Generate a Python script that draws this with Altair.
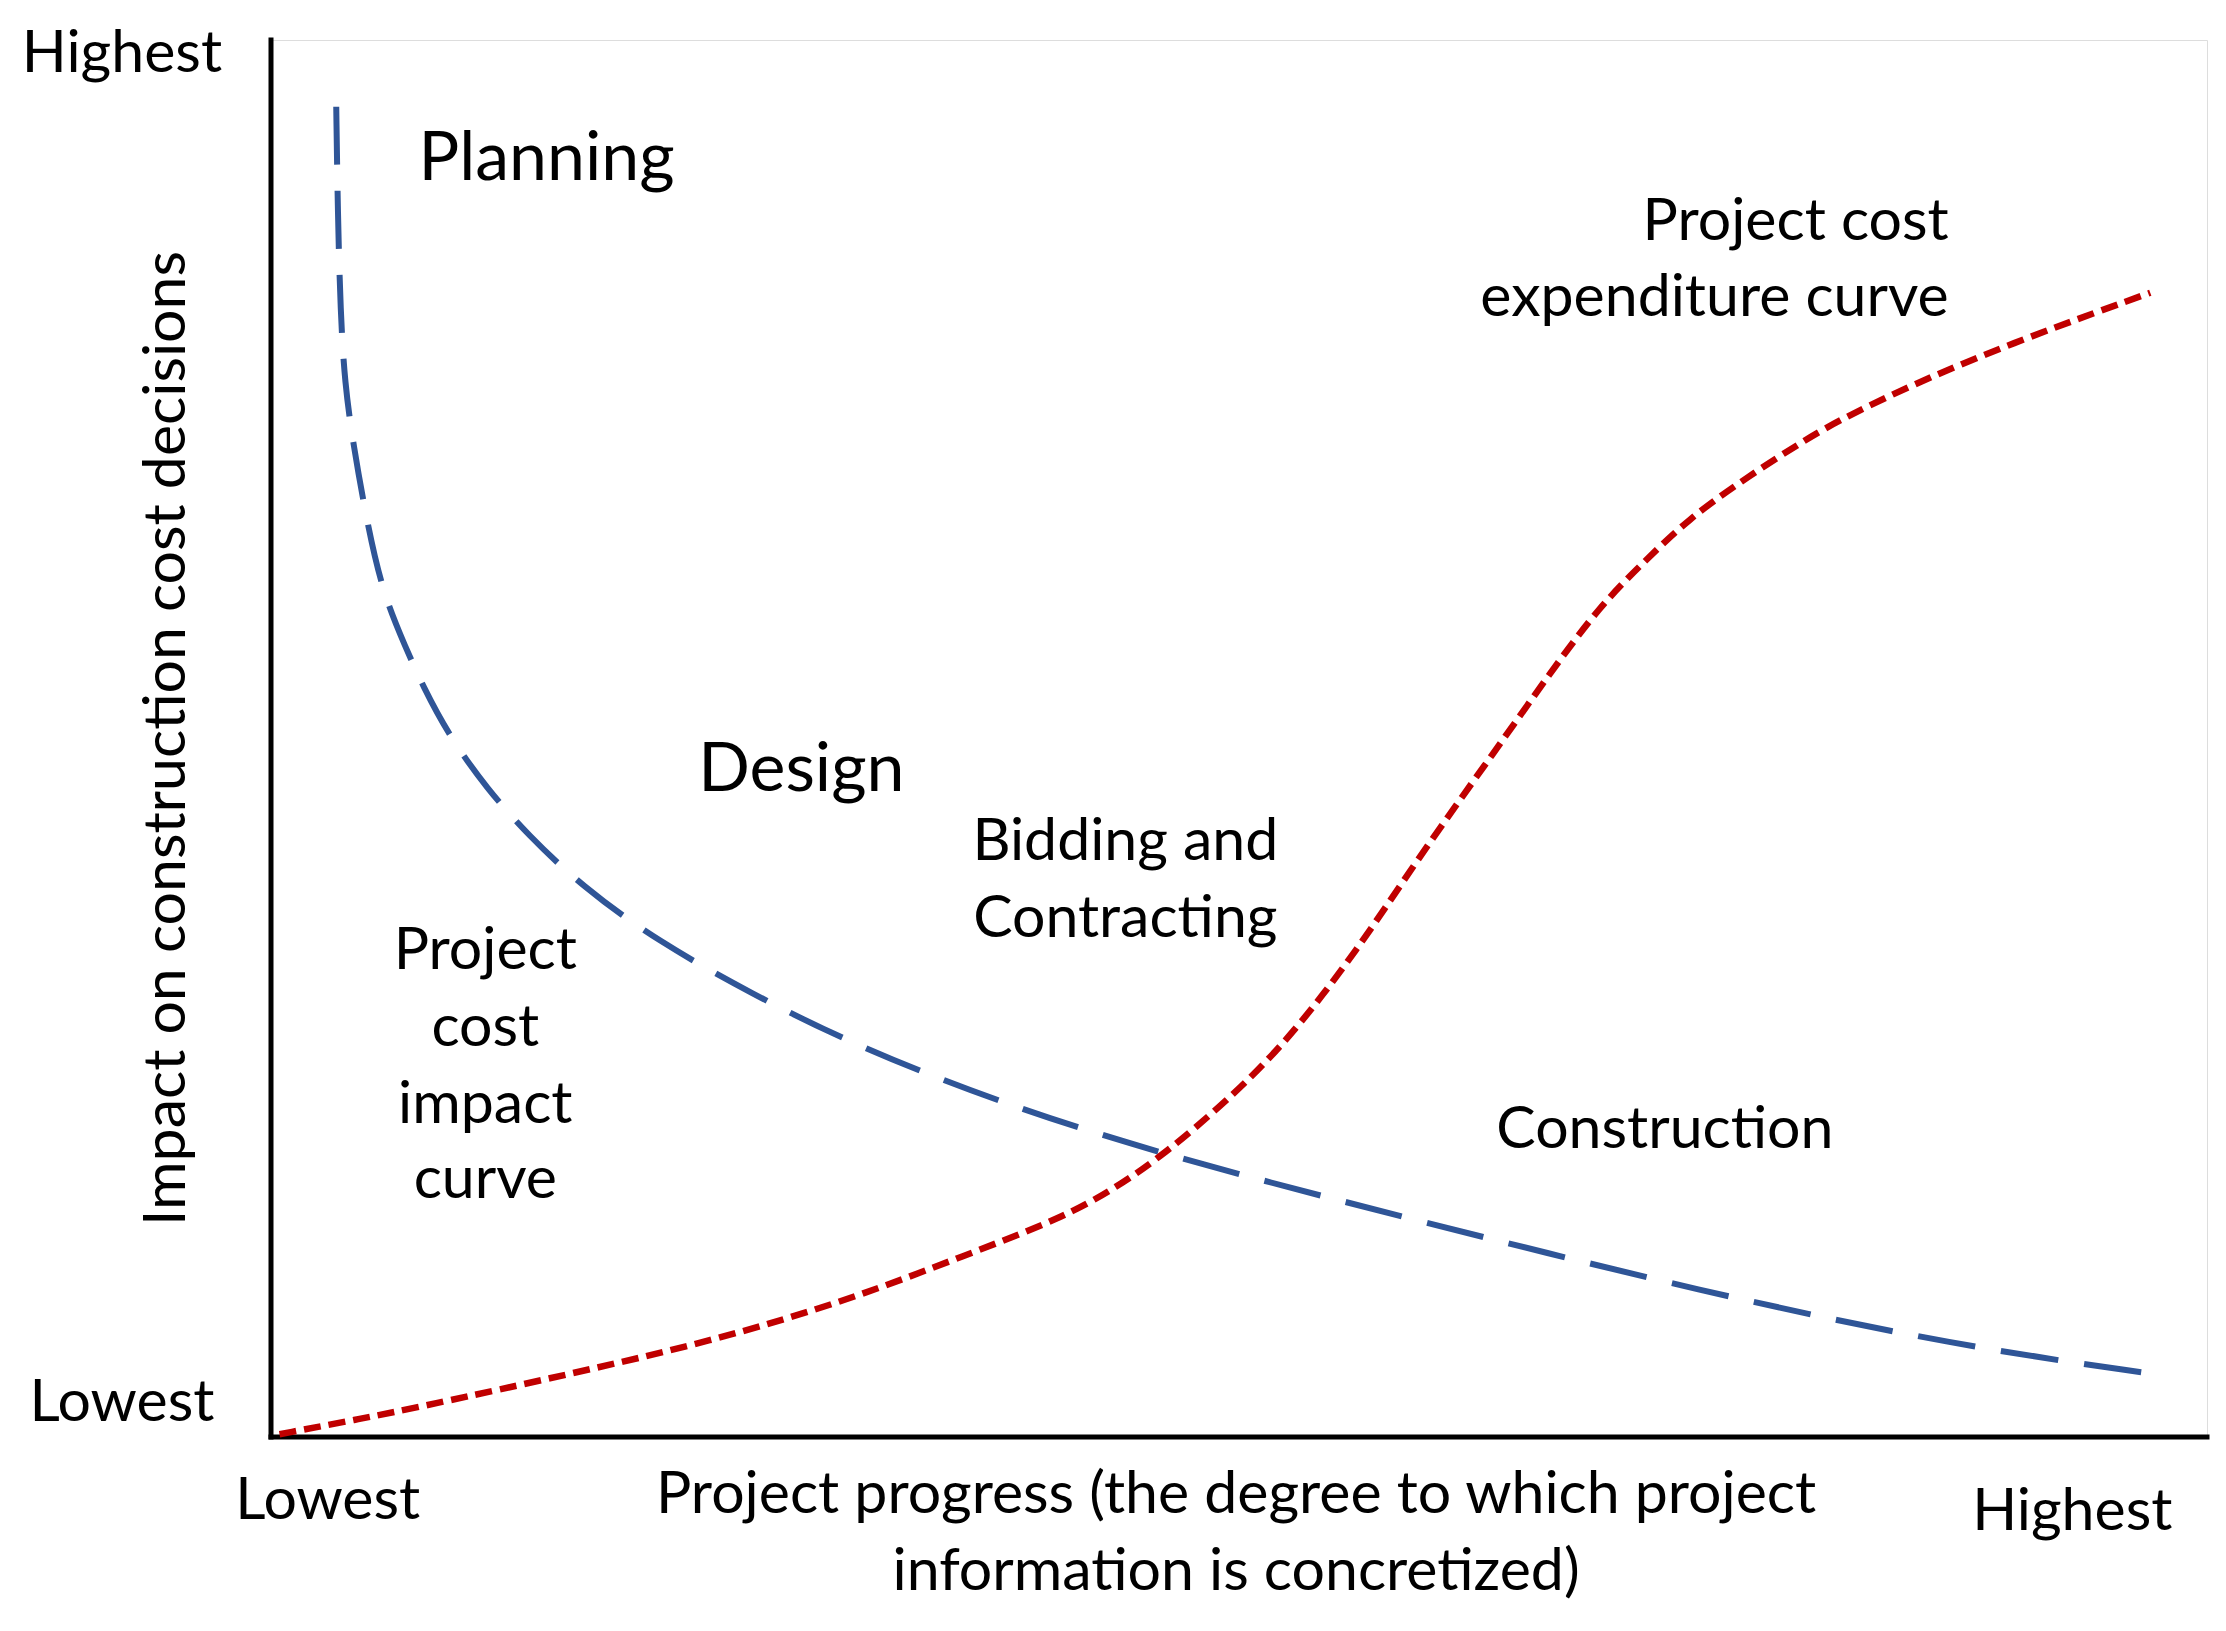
import altair as alt
import pandas as pd

# Project cost impact curve (blue, long dashes) - domain 0..100 both axes
blue_x = [3.37, 3.45, 3.59, 3.81, 4.25, 4.99, 5.79, 6.96, 7.84, 9.24, 11.14, 13.27, 16.06, 19.87, 24.85, 29.99, 37.32, 45.97, 59.31, 73.97, 87.17, 97.43]
blue_y = [95.22, 87.60, 80.49, 75.41, 71.04, 65.24, 60.37, 56.50, 53.76, 50.10, 46.44, 43.09, 39.43, 35.57, 31.71, 28.15, 24.09, 20.22, 15.45, 10.37, 6.50, 4.47]

# Project cost expenditure curve (red, short dashes)
red_x = [0.44, 4.33, 7.99, 15.32, 22.65, 29.99, 35.85, 40.84, 43.70, 45.89, 48.31, 52.13, 56.23, 59.16, 63.27, 66.06, 68.62, 70.89, 73.24, 76.03, 78.96, 81.45, 87.98, 97.07]
red_y = [0.20, 1.22, 2.24, 4.47, 6.81, 9.86, 13.01, 15.65, 17.89, 20.02, 22.76, 27.64, 35.06, 41.26, 49.19, 54.67, 59.45, 62.60, 65.75, 68.50, 71.14, 73.17, 77.34, 81.91]

# Phase labels (large)
phase_text = ["Planning", "Design"]
phase_x = [7.62, 22.07]
phase_y = [91.4, 47.7]

# Centered annotation lines
center_text = ["Bidding and", "Contracting", "Project", "cost", "impact", "curve", "Construction",
               "Highest", "Lowest", "Lowest", "Highest",
               "Project progress (the degree to which project", "information is concretized)"]
center_x = [44.13, 44.13, 11.07, 11.07, 11.07, 11.07, 72.0,
            -7.70, -7.70, 2.93, 93.04,
            49.85, 49.85]
center_y = [42.6, 37.1, 34.76, 29.27, 23.78, 18.39, 21.95,
            98.98, 2.44, -4.57, -5.39,
            -4.17, -9.65]

# Right-aligned annotation
right_text = ["Project cost", "expenditure curve"]
right_x = [86.66, 86.66]
right_y = [87.0, 81.5]

ytitle_text = ["Impact on construction cost decisions"]
ytitle_x = [-5.35]
ytitle_y = [50.0]

FONT = "Lato"
NORMAL = 59
BIG = 68
xs = alt.Scale(domain=[0, 100], nice=False, zero=False)
ys = alt.Scale(domain=[0, 100], nice=False, zero=False)

def X(f):
    return alt.X(f, type="quantitative", scale=xs, axis=None)

def Y(f):
    return alt.Y(f, type="quantitative", scale=ys, axis=None)

blue = pd.DataFrame({"x": blue_x, "y": blue_y, "o": list(range(len(blue_x)))})
red = pd.DataFrame({"x": red_x, "y": red_y, "o": list(range(len(red_x)))})

blue_line = alt.Chart(blue).mark_line(
    color="#2f5597", strokeWidth=6, strokeDash=[58, 26], interpolate="basis", clip=False
).encode(x=X("x"), y=Y("y"), order="o:Q")

red_line = alt.Chart(red).mark_line(
    color="#c00000", strokeWidth=6.5, strokeDash=[17, 8], interpolate="basis", clip=False
).encode(x=X("x"), y=Y("y"), order="o:Q")

axes_df = pd.DataFrame({"x": [0, 0], "x2": [0, 100], "y": [0, 0], "y2": [100, 0]})
axes = alt.Chart(axes_df).mark_rule(color="black", strokeWidth=5, strokeCap="square").encode(
    x=X("x"), x2="x2", y=Y("y"), y2="y2"
)

phase = alt.Chart(pd.DataFrame({"x": phase_x, "y": phase_y, "t": phase_text})).mark_text(
    font=FONT, fontSize=BIG, align="left", baseline="middle", color="black"
).encode(x=X("x"), y=Y("y"), text="t:N")

center = alt.Chart(pd.DataFrame({"x": center_x, "y": center_y, "t": center_text})).mark_text(
    font=FONT, fontSize=NORMAL, align="center", baseline="middle", color="black"
).encode(x=X("x"), y=Y("y"), text="t:N")

right = alt.Chart(pd.DataFrame({"x": right_x, "y": right_y, "t": right_text})).mark_text(
    font=FONT, fontSize=NORMAL, align="right", baseline="middle", color="black"
).encode(x=X("x"), y=Y("y"), text="t:N")

ytitle = alt.Chart(pd.DataFrame({"x": ytitle_x, "y": ytitle_y, "t": ytitle_text})).mark_text(
    font=FONT, fontSize=NORMAL, align="center", baseline="middle", angle=270, color="black"
).encode(x=X("x"), y=Y("y"), text="t:N")

chart = alt.layer(axes, blue_line, red_line, phase, center, right, ytitle).properties(
    width=1936, height=1397,
    autosize=alt.AutoSizeParams(type="none"),
    padding={"left": 263, "top": 32, "right": 11, "bottom": 186},
).configure_view(stroke=None).configure(background="white")

chart.save("out.html", embed_options={"renderer": "svg", "actions": False})
